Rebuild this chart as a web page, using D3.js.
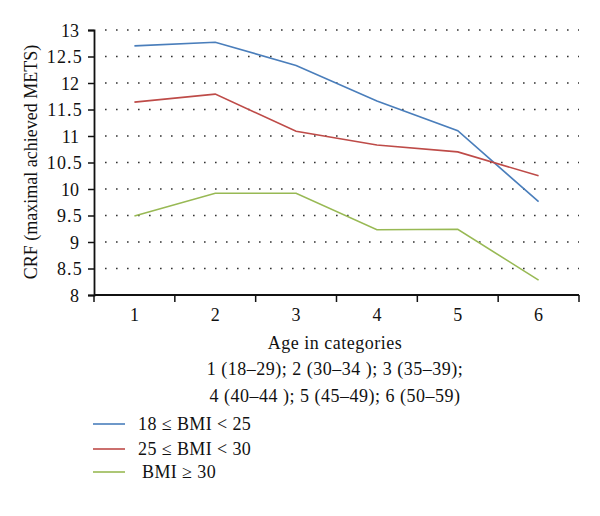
<!DOCTYPE html>
<html><head><meta charset="utf-8">
<script src="https://cdn.jsdelivr.net/npm/d3@7"></script>
<style>body{margin:0;background:#fff}svg{display:block}text{font-family:"Liberation Serif","Times New Roman",serif;fill:#111}</style>
</head><body><svg id="c" width="600" height="516"></svg>
<script>
const categories = ["1","2","3","4","5","6"];
const yTicks = [8,8.5,9,9.5,10,10.5,11,11.5,12,12.5,13];
const seriesNames = ["18 ≤ BMI < 25","25 ≤ BMI < 30","BMI ≥ 30"];
const normalBMI = [12.70,12.77,12.33,11.66,11.10,9.76];
const overweightBMI = [11.64,11.79,11.09,10.83,10.70,10.25];
const obeseBMI = [9.49,9.92,9.92,9.23,9.24,8.28];
const colors = ["#4a7ebb","#be4b48","#98b954"];
const xTitleLines = ["Age in categories","1 (18–29); 2 (30–34 ); 3 (35–39);","4 (40–44 ); 5 (45–49); 6 (50–59)"];

const svg = d3.select("#c");
const L=94, R=579, T=30, B=295;
const x = d3.scaleBand().domain(categories).range([L,R]);
const y = d3.scaleLinear().domain([8,13]).range([B,T]);
const FS = "18px";

// dotted grid
svg.append("g").selectAll("line").data(yTicks.filter(v=>v>8)).join("line")
  .attr("x1",L+11).attr("x2",R).attr("y1",d=>y(d)).attr("y2",d=>y(d))
  .attr("stroke","#333").attr("stroke-width",1.6).attr("stroke-dasharray","1.6 9.4");

// y axis
const ya = svg.append("g").attr("transform",`translate(${L},0)`)
  .call(d3.axisLeft(y).tickValues(yTicks).tickSize(6).tickPadding(9).tickFormat(d3.format("")));
ya.select(".domain").attr("stroke","#111").attr("stroke-width",1.8);
ya.selectAll(".tick line").attr("stroke","#111").attr("stroke-width",1.5);
ya.selectAll("text").style("font-size",FS).attr("fill","#111").attr("dy","0.35em")
  .attr("dx",d=>Number.isInteger(d)?0:4).style("letter-spacing",d=>Number.isInteger(d)?"0px":"1.2px");

// x axis
const xa = svg.append("g").attr("transform",`translate(0,${B})`);
xa.append("line").attr("x1",L).attr("x2",R).attr("stroke","#111").attr("stroke-width",1.8);
const bounds = categories.map(c=>x(c)).concat([x(categories[5])+x.bandwidth()]);
xa.selectAll(".tk").data(bounds).join("line").attr("class","tk")
  .attr("x1",d=>d).attr("x2",d=>d).attr("y1",0).attr("y2",7).attr("stroke","#111").attr("stroke-width",1.5);
xa.selectAll(".lb").data(categories).join("text").attr("class","lb")
  .attr("x",d=>x(d)+x.bandwidth()/2).attr("y",26).attr("text-anchor","middle").style("font-size",FS).text(d=>d);

// x title
svg.selectAll(".xt").data(xTitleLines).join("text").attr("class","xt")
  .attr("x",335).attr("y",(d,i)=>[349,375,402][i])
  .attr("text-anchor","middle").style("font-size",FS).style("letter-spacing","0.5px").text(d=>d);

// y title
svg.append("text").attr("transform","translate(37,162) rotate(-90)").attr("text-anchor","middle")
  .style("font-size",FS).text("CRF (maximal achieved METS)");

// lines
const line = d3.line().x((d,i)=>x(categories[i])+x.bandwidth()/2).y(d=>y(d));
[normalBMI,overweightBMI,obeseBMI].forEach((s,i)=>{
  svg.append("path").attr("d",line(s)).attr("fill","none").attr("stroke",colors[i]).attr("stroke-width",1.6);
});

// legend
const ly=[424,449,472], lx=[138,138,142];
seriesNames.forEach((n,i)=>{
  svg.append("line").attr("x1",93).attr("x2",125).attr("y1",ly[i]).attr("y2",ly[i]).attr("stroke",colors[i]).attr("stroke-width",1.6);
  svg.append("text").attr("x",lx[i]).attr("y",ly[i]+6).style("font-size",FS).style("letter-spacing","0.4px").text(n);
});
</script></body></html>
